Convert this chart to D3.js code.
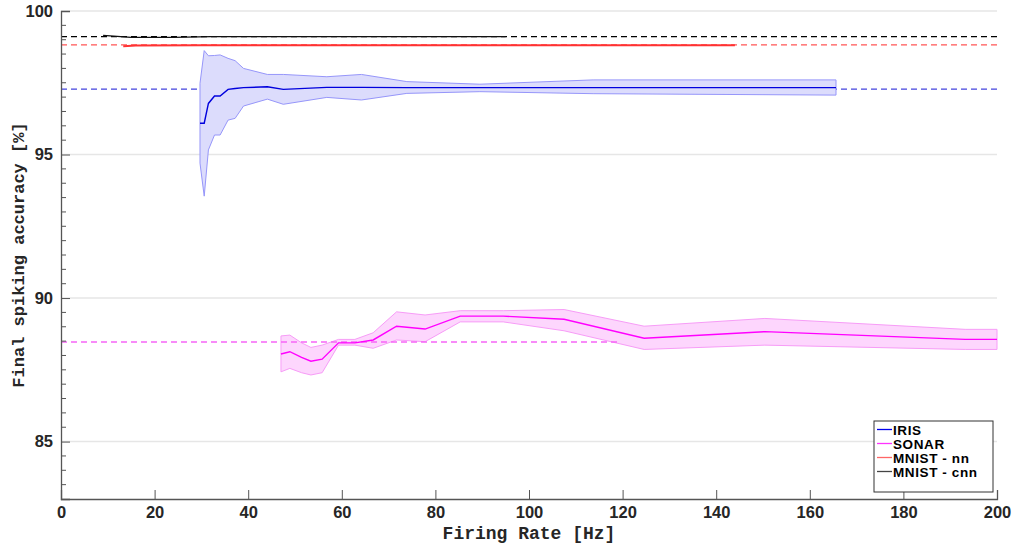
<!DOCTYPE html>
<html>
<head>
<meta charset="utf-8">
<script src="https://cdn.jsdelivr.net/npm/d3@7"></script>
<style>
  body { margin: 0; background: #fff; }
  .tick text { font-family: "Liberation Sans", Arial, sans-serif; font-weight: bold; font-size: 16.5px; fill: #262626; }
</style>
</head>
<body>
<div id="chart"></div>
<script>
// IRIS (mean and band)
var irisHz    = [29.7, 30.6, 31.5, 32.8, 34.0, 35.7, 37.2, 39.0, 44.1, 47.5, 56.8, 64.2, 73.9, 89.5, 113.7, 165.6];
var irisMean  = [96.09, 96.09, 96.78, 97.04, 97.04, 97.27, 97.30, 97.33, 97.36, 97.27, 97.34, 97.34, 97.33, 97.33, 97.33, 97.33];
var irisUpper = [97.48, 98.62, 98.44, 98.45, 98.47, 98.35, 98.27, 98.00, 97.79, 97.79, 97.71, 97.79, 97.54, 97.45, 97.60, 97.60];
var irisLower = [94.70, 93.55, 95.16, 95.68, 95.68, 96.20, 96.26, 96.69, 96.93, 96.75, 96.99, 96.90, 97.13, 97.19, 97.12, 97.07];

// SONAR (mean and band)
var sonarHz    = [47.0, 48.9, 51.4, 53.4, 55.8, 59.3, 62.8, 66.7, 71.7, 77.8, 85.3, 94.5, 107.5, 124.6, 150.4, 193.2, 200];
var sonarMean  = [88.05, 88.13, 87.93, 87.80, 87.87, 88.44, 88.44, 88.54, 89.02, 88.92, 89.37, 89.37, 89.26, 88.60, 88.83, 88.56, 88.56];
var sonarUpper = [88.68, 88.71, 88.44, 88.28, 88.36, 88.56, 88.56, 88.79, 89.52, 89.41, 89.56, 89.56, 89.60, 89.02, 89.29, 88.91, 88.91];
var sonarLower = [87.43, 87.55, 87.40, 87.32, 87.40, 88.36, 88.36, 88.25, 88.54, 88.48, 89.17, 89.17, 88.86, 88.21, 88.36, 88.21, 88.21];

// MNIST lines
var cnnHz  = [9.0, 10.5, 15.0, 24.0, 32.0, 95.0];
var cnnAcc = [99.15, 99.13, 99.08, 99.08, 99.11, 99.11];
var nnHz   = [13.3, 16.0, 30.0, 144.0];
var nnAcc  = [98.77, 98.80, 98.81, 98.81];

// baselines (dashed): value, from Hz, to Hz
var baseNames  = ["cnn", "nn", "iris", "sonar"];
var baseValues = [99.11, 98.82, 97.28, 88.47];
var baseFrom   = [0, 0, 0, 0];
var baseTo     = [200, 200, 200, 119];

var xTicks = [0, 20, 40, 60, 80, 100, 120, 140, 160, 180, 200];
var yTicks = [85, 90, 95, 100];
var legendNames = ["IRIS", "SONAR", "MNIST - nn", "MNIST - cnn"];
var legendColors = ["#0000ee", "#ff33ff", "#ff6666", "#444444"];

var margin = { top: 11, right: 16, bottom: 46, left: 61 },
    width = 1013 - margin.left - margin.right,
    height = 545 - margin.top - margin.bottom;

var x = d3.scaleLinear().domain([0, 200]).range([0, width]);
var y = d3.scaleLinear().domain([83, 100]).range([height, 0]);

var svg = d3.select("#chart").append("svg")
    .attr("width", 1013)
    .attr("height", 545)
  .append("g")
    .attr("transform", "translate(" + margin.left + "," + margin.top + ")");

// grid
svg.append("g").selectAll("line")
    .data(yTicks)
    .enter().append("line")
    .attr("x1", 0).attr("x2", width)
    .attr("y1", function (d) { return y(d); })
    .attr("y2", function (d) { return y(d); })
    .attr("stroke", "#e6e6e6")
    .attr("stroke-width", 1.5);

function dashed(i, color) {
  svg.append("line")
      .attr("x1", x(baseFrom[i])).attr("x2", x(baseTo[i]))
      .attr("y1", y(baseValues[i])).attr("y2", y(baseValues[i]))
      .attr("stroke", color)
      .attr("stroke-width", 1.3)
      .attr("stroke-dasharray", "6,4");
}

function band(hz, lo, hi, fill, edge) {
  var pts = hz.map(function (d, i) { return { x: d, lo: lo[i], hi: hi[i] }; });
  svg.append("path")
      .datum(pts)
      .attr("d", d3.area()
        .x(function (d) { return x(d.x); })
        .y0(function (d) { return y(d.lo); })
        .y1(function (d) { return y(d.hi); }))
      .attr("fill", fill)
      .attr("stroke", edge)
      .attr("stroke-width", 1);
}

function solid(hz, vals, color, w) {
  var pts = hz.map(function (d, i) { return [d, vals[i]]; });
  svg.append("path")
      .datum(pts)
      .attr("d", d3.line()
        .x(function (d) { return x(d[0]); })
        .y(function (d) { return y(d[1]); }))
      .attr("fill", "none")
      .attr("stroke", color)
      .attr("stroke-width", w);
}

dashed(0, "#000000");
dashed(1, "#ff5555");
dashed(2, "#4444dd");

band(irisHz, irisLower, irisUpper, "#dcdcfc", "#9696fa");
band(sonarHz, sonarLower, sonarUpper, "#fdd6fd", "#f79cf7");

dashed(3, "#f666f6");

solid(irisHz, irisMean, "#0000dd", 1.4);
solid(sonarHz, sonarMean, "#ff00ff", 1.4);
solid(nnHz, nnAcc, "#ff3333", 2);
solid(cnnHz, cnnAcc, "#111111", 1.3);

// axes
var xAxis = d3.axisBottom(x).tickValues(xTicks).tickSize(-9).tickPadding(7);
var yAxis = d3.axisLeft(y).tickValues(yTicks).tickSize(-9).tickPadding(8);

svg.append("g")
    .attr("transform", "translate(0," + height + ")")
    .call(xAxis)
    .call(function (g) {
      g.select(".domain").attr("stroke", "#555").attr("stroke-width", 1.3);
      g.selectAll(".tick line").attr("stroke", "#555");
    });

svg.append("g")
    .call(yAxis)
    .call(function (g) {
      g.select(".domain").attr("stroke", "#555").attr("stroke-width", 1.3);
      g.selectAll(".tick line").attr("stroke", "#555");
    });

// minor y ticks
svg.append("g").selectAll("line")
    .data(d3.range(83.5, 100, 0.5).filter(function (d) { return d % 5 !== 0; }))
    .enter().append("line")
    .attr("x1", 0).attr("x2", 5)
    .attr("y1", function (d) { return y(d); })
    .attr("y2", function (d) { return y(d); })
    .attr("stroke", "#555");

// axis titles
svg.append("text")
    .attr("x", width / 2)
    .attr("y", height + 40)
    .attr("text-anchor", "middle")
    .style("font-family", "'Liberation Mono', 'Courier New', monospace")
    .style("font-weight", "bold")
    .style("font-size", "18px")
    .attr("fill", "#262626")
    .text("Firing Rate [Hz]");

svg.append("text")
    .attr("transform", "translate(" + (-37) + "," + (y(91.5)) + ") rotate(-90)")
    .attr("text-anchor", "middle")
    .style("font-family", "'Liberation Mono', 'Courier New', monospace")
    .style("font-weight", "bold")
    .style("font-size", "17px")
    .attr("fill", "#262626")
    .text("Final spiking accuracy [%]");

// legend
var lg = svg.append("g").attr("transform", "translate(" + (874 - margin.left) + "," + (421 - margin.top) + ")");
lg.append("rect")
    .attr("width", 119).attr("height", 71)
    .attr("fill", "#fff")
    .attr("stroke", "#333")
    .attr("stroke-width", 1);
legendNames.forEach(function (name, i) {
  var ly = 8.5 + i * 14;
  lg.append("line")
      .attr("x1", 3).attr("x2", 18)
      .attr("y1", ly).attr("y2", ly)
      .attr("stroke", legendColors[i])
      .attr("stroke-width", 1.3);
  lg.append("text")
      .attr("x", 19).attr("y", ly + 5)
      .style("font-family", "'Liberation Sans', Arial, sans-serif")
      .style("font-weight", "bold")
      .style("font-size", "13.5px")
      .style("letter-spacing", "0.6px")
      .attr("fill", "#000")
      .text(name);
});
</script>
</body>
</html>
